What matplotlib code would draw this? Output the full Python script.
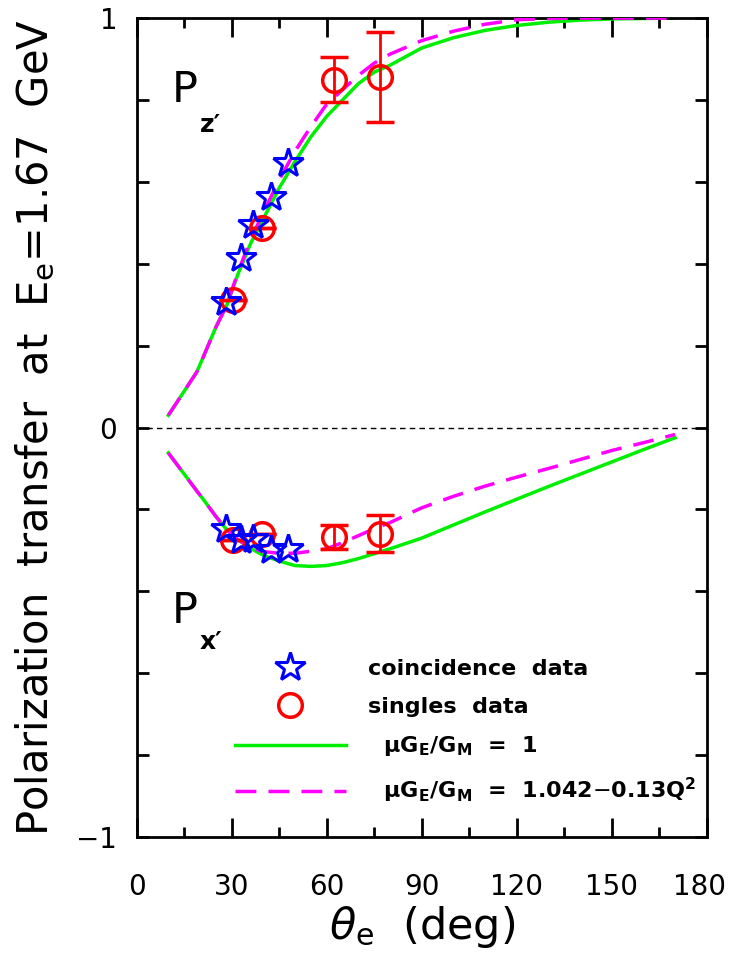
"""Polarization transfer components Pz' and Px' vs electron scattering angle."""

import numpy as np
import matplotlib
matplotlib.use("Agg")
import matplotlib.pyplot as plt  # noqa: E402
import matplotlib.transforms as mtransforms  # noqa: E402
from matplotlib.lines import Line2D  # noqa: E402

plt.rcParams["font.family"] = ["DejaVu Sans"]
plt.rcParams["mathtext.fontset"] = "dejavusans"

# ---- data -----------------------------------------------------------------
# coincidence data (stars)
coin_theta = [28.3, 33.0, 36.8, 42.3, 47.8]
coin_pz = [0.307, 0.413, 0.495, 0.564, 0.645]
coin_px = [-0.247, -0.275, -0.271, -0.300, -0.296]

# singles data (circles) with errors
sing_theta = [30.3, 39.6, 62.3, 76.7]
sing_pz = [0.311, 0.487, 0.849, 0.857]
sing_pz_err = [0.0, 0.0, 0.055, 0.11]
sing_px = [-0.275, -0.259, -0.267, -0.259]
sing_px_err = [0.0, 0.0, 0.03, 0.046]

# curves: muGE/GM = 1 (green) and 1.042-0.13Q^2 (magenta)
curve_theta = [10, 19, 21, 25, 28.5, 32, 36, 40, 45, 50, 55, 60, 65, 70, 75, 80,
               90, 100, 110, 120, 130, 140, 150, 160, 170]
pz_green = [0.03, 0.136, 0.172, 0.245, 0.300, 0.375, 0.45, 0.51, 0.585, 0.65, 0.71,
            0.76, 0.80, 0.84, 0.868, 0.885, 0.927, 0.952, 0.970, 0.982, 0.990, 0.995,
            0.998, 0.999, 1.0]
pz_magenta = [0.03, 0.136, 0.172, 0.245, 0.300, 0.38, 0.46, 0.525, 0.605, 0.675,
              0.735, 0.79, 0.825, 0.86, 0.89, 0.912, 0.945, 0.968, 0.985, 0.996,
              0.999, 1.0, 1.0, 1.0, 1.0]
px_green = [-0.062, -0.155, -0.175, -0.217, -0.250, -0.274, -0.295, -0.312, -0.326,
            -0.337, -0.339, -0.337, -0.330, -0.320, -0.308, -0.296, -0.270, -0.238,
            -0.206, -0.175, -0.144, -0.114, -0.084, -0.054, -0.025]
px_magenta = [-0.062, -0.155, -0.175, -0.217, -0.250, -0.274, -0.293, -0.303, -0.307,
              -0.307, -0.302, -0.296, -0.281, -0.264, -0.247, -0.232, -0.196, -0.168,
              -0.143, -0.121, -0.100, -0.078, -0.056, -0.037, -0.017]

ytick_vals = [-1.0, -0.8, -0.6, -0.4, -0.2, 0.0, 0.2, 0.4, 0.6, 0.8, 1.0]
ytick_text = ["\u22121", "", "", "", "", "0", "", "", "", "", "1"]

# ---- plot -----------------------------------------------------------------
fig = plt.figure(figsize=(7.29, 9.68), dpi=100)
ax = fig.add_axes([0.1875, 0.1353, 0.782, 0.846])

green = "#00ee00"
magenta = "#ff00ff"

ax.axhline(0, color="black", lw=1, ls=(0, (4, 3)), zorder=1)

for yg, ym in ((pz_green, pz_magenta), (px_green, px_magenta)):
    ax.plot(curve_theta, yg, color=green, lw=2.5, zorder=2)
    ax.plot(curve_theta, ym, color=magenta, lw=2.5, ls=(0, (6, 3.5)), zorder=3)

star_kw = dict(ls="none", marker="*", ms=22, mfc="none", mec="blue", mew=2.2, zorder=5)
ax.plot(coin_theta, coin_pz, **star_kw)
ax.plot(coin_theta, coin_px, **star_kw)

circ_kw = dict(fmt="o", ms=17, mfc="none", mec="red", mew=2.5, ecolor="red",
               elinewidth=2, capsize=10, capthick=2, zorder=4)
ax.errorbar(sing_theta, sing_pz, yerr=sing_pz_err, **circ_kw)
ax.errorbar(sing_theta, sing_px, yerr=sing_px_err, **circ_kw)

ax.set_xlim(0, 180)
ax.set_ylim(-1, 1)
ax.set_xticks(np.arange(0, 181, 30))
ax.set_xticks(np.arange(0, 181, 15), minor=True)
ax.set_yticks(ytick_vals)
ax.set_yticklabels(ytick_text)
ax.tick_params(which="both", direction="in", top=True, right=True, width=2)
ax.tick_params(axis="x", which="major", length=14, pad=26)
ax.tick_params(axis="x", which="minor", length=7)
ax.tick_params(axis="y", which="major", length=8.5, pad=14)
for lab in ax.get_xticklabels() + ax.get_yticklabels():
    lab.set_family(["Liberation Sans Narrow", "DejaVu Sans"])
    lab.set_fontsize(20)
# nudge "180" left so it stays inside the figure, as in the original
last = ax.get_xticklabels()[-1]
last.set_transform(last.get_transform()
                   + mtransforms.ScaledTranslation(-5 / 72, 0, fig.dpi_scale_trans))
for s in ax.spines.values():
    s.set_linewidth(2)

ax.set_ylabel(r"Polarization  transfer  at  E$_\mathrm{e}$=1.67  GeV", fontsize=30,
              labelpad=14)
ax.set_xlabel(r"$\theta_\mathrm{e}$  (deg)", fontsize=31, labelpad=2)

ax.text(0.061, 0.887, "P", transform=ax.transAxes, fontsize=31, ha="left", va="bottom")
ax.text(0.11, 0.884, "z\u2032", transform=ax.transAxes, fontsize=18, fontweight="bold",
        ha="left", va="top")
ax.text(0.061, 0.25, "P", transform=ax.transAxes, fontsize=31, ha="left", va="bottom")
ax.text(0.11, 0.253, "x\u2032", transform=ax.transAxes, fontsize=18, fontweight="bold",
        ha="left", va="top")

handles = [
    Line2D([], [], ls="none", marker="*", ms=22, mfc="none", mec="blue", mew=2.2),
    Line2D([], [], ls="none", marker="o", ms=17, mfc="none", mec="red", mew=2.5),
    Line2D([], [], color=green, lw=2.5),
    Line2D([], [], color=magenta, lw=2.5, ls=(0, (6, 3.5))),
]
labels = [
    "coincidence  data",
    "singles  data",
    r"  $\mathbf{\mu G_E/G_M}$  =  1",
    r"  $\mathbf{\mu G_E/G_M}$  =  1.042$-$0.13Q$^\mathbf{2}$",
]
ax.legend(handles, labels, loc="upper left", bbox_to_anchor=(0.137, 0.242),
          frameon=False, handlelength=5.0, handletextpad=1.0, labelspacing=0.8,
          prop={"size": 16, "weight": "bold"})

fig.savefig("out.png", dpi=100)
